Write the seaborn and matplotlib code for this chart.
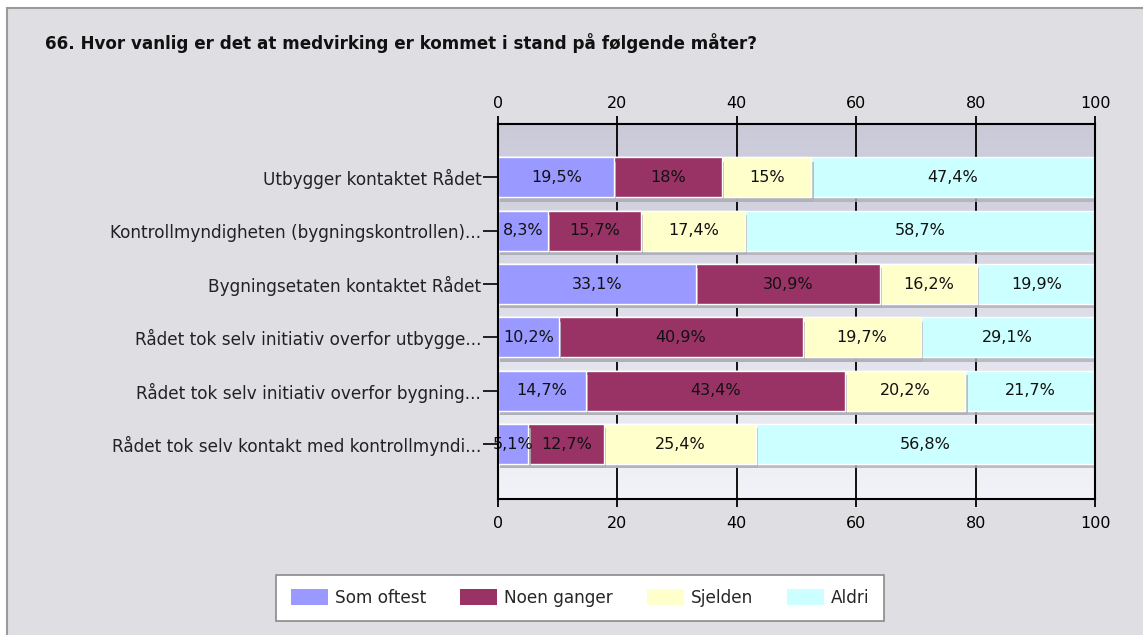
import seaborn as sns
import pandas as pd
import matplotlib.pyplot as plt
import numpy as np
from matplotlib.patches import Rectangle, Patch
import matplotlib.patheffects as pe
import matplotlib.transforms as mtransforms

# Data
questions = [
    "Utbygger kontaktet Rådet",
    "Kontrollmyndigheten (bygningskontrollen)...",
    "Bygningsetaten kontaktet Rådet",
    "Rådet tok selv initiativ overfor utbygge...",
    "Rådet tok selv initiativ overfor bygning...",
    "Rådet tok selv kontakt med kontrollmyndi...",
]
series_names = ["Som oftest", "Noen ganger", "Sjelden", "Aldri"]
som_oftest = [19.5, 8.3, 33.1, 10.2, 14.7, 5.1]
noen_ganger = [18.0, 15.7, 30.9, 40.9, 43.4, 12.7]
sjelden = [15.0, 17.4, 16.2, 19.7, 20.2, 25.4]
aldri = [47.4, 58.7, 19.9, 29.1, 21.7, 56.8]
x_ticks = [0, 20, 40, 60, 80, 100]

colors = ["#9999ff", "#993366", "#ffffcc", "#ccffff"]

df = pd.DataFrame({
    "question": questions,
    "Som oftest": som_oftest,
    "Noen ganger": noen_ganger,
    "Sjelden": sjelden,
    "Aldri": aldri,
})
cum = df[series_names].cumsum(axis=1)

sns.set_style("white")
plt.rcParams['font.family'] = ['DejaVu Sans']

fig = plt.figure(figsize=(11.43, 6.35), dpi=100)
fig.patch.set_facecolor("white")
# outer panel
fig.patches.append(Rectangle((7 / 1143, -0.01), 1.0, 1 - 8 / 635 + 0.01,
                             transform=fig.transFigure, facecolor="#dfdee3",
                             edgecolor="#9a9a9a", linewidth=1.5, zorder=-10))

ax = fig.add_axes([498 / 1143, 1 - 499 / 635, (1095 - 498) / 1143, (499 - 124) / 635])

# gradient plot background
grad = np.linspace(0, 1, 256).reshape(-1, 1)
top_c = np.array([0.79, 0.79, 0.85])
bot_c = np.array([0.95, 0.95, 0.975])
img = top_c + (bot_c - top_c) * grad[:, :, None]
ax.imshow(img, extent=[0, 100, 6.03, -1.0], aspect="auto", zorder=0)

# stacked bars: draw cumulative totals from the largest down
for name, c in reversed(list(zip(series_names, colors))):
    sns.barplot(x=cum[name], y=df["question"], color=c, orient="h",
                width=0.75, saturation=1.0, ax=ax, zorder=3)

for p in ax.patches:
    p.set_path_effects([pe.SimplePatchShadow(offset=(1.5, -3), shadow_rgbFace="#b0b0b8", alpha=0.8),
                        pe.Normal()])

# value labels
for i in range(len(questions)):
    for name in series_names:
        v = df.loc[i, name]
        centre = cum.loc[i, name] - v / 2
        txt = f"{v:.1f}".replace(".0", "").replace(".", ",") + "%"
        ax.text(centre, i, txt, ha="center", va="center", fontsize=11.5,
                color="#111111", zorder=5)

ax.set_xlim(0, 100)
ax.set_ylim(6.03, -1.0)
ax.set_xticks(x_ticks)
ax.set_xticklabels([str(t) for t in x_ticks])
ax.set_xlabel("")
ax.set_ylabel("")

for x in x_ticks:
    ax.axvline(x, color="black", linewidth=1.3, zorder=1)

ax.tick_params(axis="x", which="both", top=True, bottom=True, labeltop=True,
               labelbottom=True, direction="out", length=6, width=1.3,
               pad=6, labelsize=11.5, colors="black")
ax.tick_params(axis="y", left=True, direction="out", length=11, width=1.2,
               pad=1, labelsize=12.2, colors="black")
for lbl in ax.get_yticklabels():
    lbl.set_color("#222222")

# nudge the top tick labels a little closer to the axis
shift = mtransforms.ScaledTranslation(0, -4 / 100, fig.dpi_scale_trans)
for t in ax.xaxis.get_major_ticks():
    t.label2.set_transform(t.label2.get_transform() + shift)

for s in ["left", "top", "bottom", "right"]:
    ax.spines[s].set_visible(True)
    ax.spines[s].set_color("black")
    ax.spines[s].set_linewidth(1.5)
    ax.spines[s].set_zorder(6)

fig.text(45 / 1143, 1 - 43 / 635,
         "66. Hvor vanlig er det at medvirking er kommet i stand på følgende måter?",
         fontsize=12.1, fontweight="bold", ha="left", va="center", color="#111111")

handles = [Patch(facecolor=c, edgecolor="none") for c in colors]
leg = fig.legend(handles, series_names, loc="center", ncol=4,
                 bbox_to_anchor=(580 / 1143, 1 - 598 / 635),
                 frameon=True, fancybox=False, edgecolor="#8a8a8a",
                 facecolor="white", fontsize=12.2, handlelength=2.2,
                 handleheight=1.1, columnspacing=2.0, handletextpad=0.4,
                 borderpad=0.85, framealpha=1.0)
leg.get_frame().set_linewidth(1.2)

fig.savefig("out.png", dpi=100)
